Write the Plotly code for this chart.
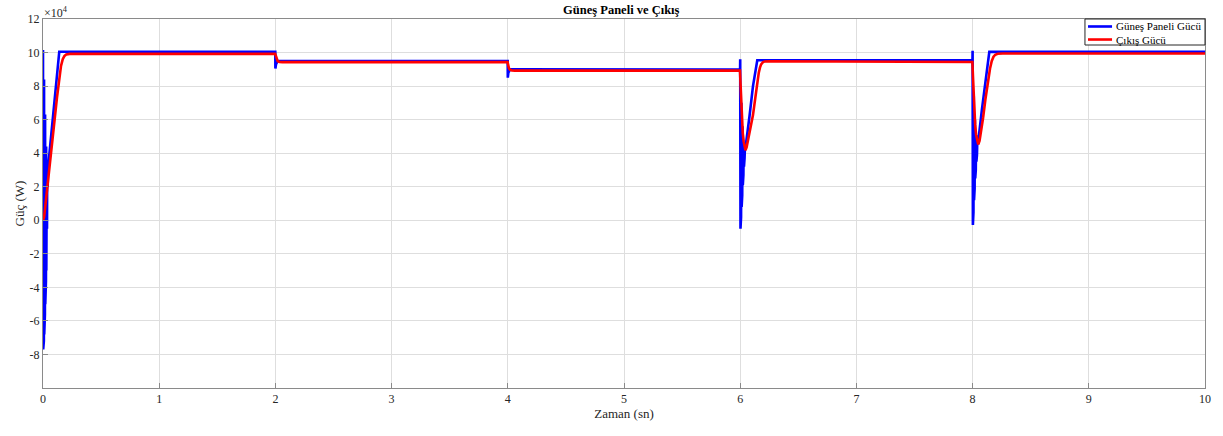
import plotly.graph_objects as go

# ---------------- data (power in units of 10^4 W, time in s) ----------------
panel_time = [
    0.0000, 0.0015, 0.0030, 0.0045, 0.0060, 0.0075, 0.0090, 0.0105, 0.0120, 0.0135,
    0.0150, 0.0165, 0.0180, 0.0195, 0.0210, 0.0225, 0.0240, 0.0255, 0.0270, 0.0285,
    0.0300, 0.0315, 0.0330, 0.0345, 0.0360, 0.0375, 0.0390, 0.0405, 0.0430,
    0.0800, 0.1100, 0.1400,
    1.9990, 2.0000, 2.0050, 2.0200,
    3.9990, 4.0000, 4.0050, 4.0200,
    5.9990,
    6.0000, 6.0025, 6.0050, 6.0075, 6.0100, 6.0125, 6.0150, 6.0175, 6.0200, 6.0225,
    6.0250, 6.0275, 6.0300, 6.0325, 6.0350, 6.0375, 6.0400, 6.0450,
    6.0800, 6.1100, 6.1470,
    7.9990,
    8.0000, 8.0025, 8.0050, 8.0075, 8.0100, 8.0125, 8.0150, 8.0175, 8.0200, 8.0225,
    8.0250, 8.0275, 8.0300, 8.0325, 8.0350, 8.0375, 8.0400, 8.0470,
    8.0800, 8.1100, 8.1440,
    10.0000,
]
panel_power_e4 = [
    10.15, -7.70, 9.60, -7.60, 9.00, -7.20, 8.40, -6.80, 7.70, -6.20,
    7.00, -5.60, 6.30, -5.00, 5.60, -4.30, 5.00, -3.60, 4.40, -3.00,
    3.90, -2.00, 3.50, -0.50, 3.20, 1.00, 3.00, 2.00, 3.10,
    5.80, 7.90, 10.05,
    10.05, 9.05, 9.30, 9.50,
    9.50, 8.50, 8.80, 9.00,
    8.98,
    9.60, -0.50, 8.00, 0.20, 7.00, 0.80, 6.20, 1.50, 5.60, 2.10,
    5.10, 2.70, 4.70, 3.20, 4.40, 3.70, 4.20, 4.30,
    6.20, 8.00, 9.54,
    9.54,
    10.10, -0.28, 8.50, 0.50, 7.40, 1.20, 6.60, 1.90, 6.00, 2.50,
    5.50, 3.00, 5.10, 3.50, 4.80, 3.90, 4.60, 4.60,
    6.60, 8.30, 10.04,
    10.04,
]

output_time = [
    0.000, 0.010, 0.030, 0.050, 0.080, 0.100, 0.120, 0.140, 0.155, 0.170, 0.185, 0.200, 0.230,
    1.998, 2.004, 2.010, 2.020, 2.035, 2.060,
    3.998, 4.004, 4.010, 4.020, 4.035, 4.060,
    5.998, 6.003, 6.008, 6.015, 6.022, 6.030, 6.038, 6.045, 6.055, 6.070, 6.090,
    6.110, 6.130, 6.147, 6.160, 6.170, 6.180, 6.195, 6.210, 6.250,
    7.998, 8.003, 8.008, 8.015, 8.022, 8.030, 8.040, 8.049, 8.060, 8.075, 8.090,
    8.110, 8.130, 8.150, 8.165, 8.180, 8.195, 8.215, 8.260,
    10.000,
]
output_power_e4 = [
    0.00, 0.20, 1.50, 2.70, 4.60, 6.00, 7.30, 8.50, 9.20, 9.60, 9.80, 9.88, 9.92,
    9.92, 9.75, 9.58, 9.48, 9.44, 9.43,
    9.43, 9.22, 9.06, 8.97, 8.93, 8.92,
    8.92, 8.10, 7.20, 6.00, 5.20, 4.70, 4.35, 4.18, 4.35, 4.90, 5.60,
    6.27, 7.30, 8.26, 8.80, 9.10, 9.30, 9.42, 9.47, 9.48,
    9.44, 8.60, 7.60, 6.50, 5.70, 5.10, 4.70, 4.52, 4.75, 5.40, 6.10,
    7.20, 8.30, 9.05, 9.50, 9.75, 9.87, 9.93, 9.94,
    9.94,
]

series_names = ["Güneş Paneli Gücü", "Çıkış Gücü"]
series_colors = ["#0000ff", "#ff0000"]

y_tick_values_e4 = [12, 10, 8, 6, 4, 2, 0, -2, -4, -6, -8]
x_tick_values = [0, 1, 2, 3, 4, 5, 6, 7, 8, 9, 10]

SCALE = 1e4
panel_w = [v * SCALE for v in panel_power_e4]
output_w = [v * SCALE for v in output_power_e4]

FONT = "Liberation Serif, Times New Roman, serif"
AX = "#262626"

fig = go.Figure()
fig.add_trace(go.Scatter(x=panel_time, y=panel_w, mode="lines",
                         name=series_names[0], showlegend=False,
                         line=dict(color=series_colors[0], width=2.6)))
fig.add_trace(go.Scatter(x=output_time, y=output_w, mode="lines",
                         name=series_names[1], showlegend=False,
                         line=dict(color=series_colors[1], width=2.6)))

fig.update_layout(
    width=1223, height=436,
    margin=dict(l=43, r=18, t=19, b=48),
    paper_bgcolor="white", plot_bgcolor="white",
    font=dict(family=FONT, size=12, color=AX),
    title=dict(text="<b>Güneş Paneli ve Çıkış</b>", x=0.508, xanchor="center",
               yref="container", y=0.978, yanchor="middle",
               font=dict(family=FONT, size=12.5, color="#000")),
    showlegend=False,
)
fig.update_xaxes(
    range=[0, 10], tickvals=x_tick_values,
    ticktext=[str(v) for v in x_tick_values],
    showgrid=True, gridcolor="#dedede", gridwidth=1,
    zeroline=False, showline=True, linecolor="#8a8a8a", linewidth=1, mirror=True,
    ticks="inside", ticklen=5, tickcolor="#8a8a8a", automargin=False,
    title=dict(text="Zaman (sn)", standoff=1, font=dict(family=FONT, size=13)),
    tickfont=dict(family=FONT, size=12),
)
fig.update_yaxes(
    range=[-10 * SCALE, 12 * SCALE],
    tickvals=[v * SCALE for v in y_tick_values_e4],
    ticktext=[str(v) for v in y_tick_values_e4],
    showgrid=True, gridcolor="#dedede", gridwidth=1,
    zeroline=False, showline=True, linecolor="#8a8a8a", linewidth=1, mirror=True,
    ticks="inside", ticklen=5, tickcolor="#8a8a8a", automargin=False,
    title=dict(text="Güç (W)", standoff=0, font=dict(family=FONT, size=13)),
    tickfont=dict(family=FONT, size=12),
)
fig.add_annotation(text="×10<sup>4</sup>", xref="paper", yref="paper",
                   x=0, y=1, xanchor="left", yanchor="bottom", yshift=-2, borderpad=0,
                   showarrow=False, font=dict(family=FONT, size=12, color=AX))

# compact MATLAB-style legend box (top-right of the axes)
fig.add_shape(type="rect", xref="paper", yref="paper",
              x0=0.8967, x1=1.0, y0=0.9295, y1=1.0,
              line=dict(color="#262626", width=1), fillcolor="white", layer="above")
legend_rows_y = [0.9797, 0.9444]
for name, color, yy in zip(series_names, series_colors, legend_rows_y):
    fig.add_shape(type="line", xref="paper", yref="paper",
                  x0=0.8993, x1=0.9200, y0=yy, y1=yy,
                  line=dict(color=color, width=2.6), layer="above")
    fig.add_annotation(text=name, xref="paper", yref="paper",
                       x=0.9215, y=yy, xanchor="left", yanchor="middle",
                       showarrow=False, font=dict(family=FONT, size=11, color="#000"))

fig.write_html("out.html", config={"displayModeBar": False},
               post_script="document.body.style.margin='0';document.body.style.overflow='hidden';")
